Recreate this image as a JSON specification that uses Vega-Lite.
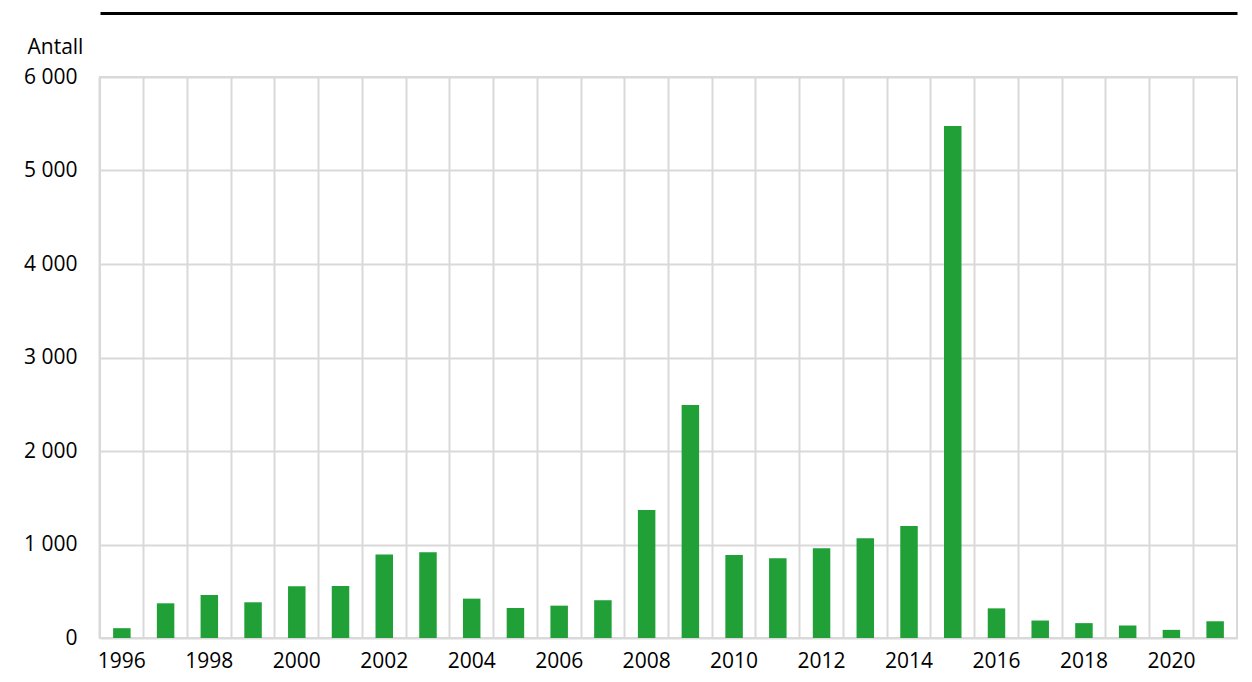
{
  "$schema": "https://vega.github.io/schema/vega-lite/v6.json",
  "width": 1137,
  "height": 561,
  "autosize": {"type": "none"},
  "padding": {"left": 100, "top": 77, "right": 15, "bottom": 44},
  "background": "white",
  "config": {
    "view": {"stroke": "#d9d9d9", "strokeWidth": 2},
    "font": "Open Sans"
  },
  "data": {
    "values": [
      {"year": 1996, "antall": 105},
      {"year": 1997, "antall": 371},
      {"year": 1998, "antall": 460},
      {"year": 1999, "antall": 382},
      {"year": 2000, "antall": 553},
      {"year": 2001, "antall": 556},
      {"year": 2002, "antall": 893},
      {"year": 2003, "antall": 918},
      {"year": 2004, "antall": 421},
      {"year": 2005, "antall": 321},
      {"year": 2006, "antall": 346},
      {"year": 2007, "antall": 404},
      {"year": 2008, "antall": 1369},
      {"year": 2009, "antall": 2492},
      {"year": 2010, "antall": 888},
      {"year": 2011, "antall": 852},
      {"year": 2012, "antall": 959},
      {"year": 2013, "antall": 1066},
      {"year": 2014, "antall": 1198},
      {"year": 2015, "antall": 5476},
      {"year": 2016, "antall": 317},
      {"year": 2017, "antall": 187},
      {"year": 2018, "antall": 159},
      {"year": 2019, "antall": 135},
      {"year": 2020, "antall": 87},
      {"year": 2021, "antall": 179}
    ]
  },
  "layer": [
    {
      "mark": {"type": "bar", "opacity": 0},
      "encoding": {
        "x": {
          "field": "year",
          "type": "ordinal",
          "scale": {"paddingInner": 0.6, "paddingOuter": 0.3},
          "axis": {
            "orient": "bottom",
            "title": null,
            "labels": false,
            "ticks": false,
            "tickSize": 0,
            "domain": false,
            "grid": true,
            "gridColor": "#d9d9d9",
            "gridWidth": 2,
            "bandPosition": -0.75
          }
        },
        "y": {"field": "antall", "type": "quantitative"}
      }
    },
    {
      "mark": {"type": "bar", "color": "#21a038"},
      "encoding": {
        "x": {
          "field": "year",
          "type": "ordinal",
          "axis": {
            "orient": "bottom",
            "title": null,
            "labelAngle": 0,
            "labelExpr": "datum.value % 2 == 0 ? datum.value : ''",
            "grid": false,
            "ticks": false,
            "tickSize": 0,
            "domain": false,
            "labelFont": "Open Sans",
            "labelFontSize": 21,
            "labelColor": "#000000",
            "labelPadding": 12
          }
        },
        "y": {
          "field": "antall",
          "type": "quantitative",
          "scale": {"domain": [0, 6000]},
          "axis": {
            "title": "Antall",
            "titleAngle": 0,
            "titleAlign": "left",
            "titleBaseline": "middle",
            "titleX": -73,
            "titleY": -30,
            "titleFont": "Open Sans",
            "titleFontSize": 21,
            "titleFontWeight": "normal",
            "titleColor": "#000000",
            "values": [0, 1000, 2000, 3000, 4000, 5000, 6000],
            "labelExpr": "replace(format(datum.value, ','), ',', ' ')",
            "labelFont": "Open Sans",
            "labelFontSize": 21,
            "labelColor": "#000000",
            "labelPadding": 23,
            "ticks": false,
            "tickSize": 0,
            "domain": false,
            "grid": true,
            "gridColor": "#d9d9d9",
            "gridWidth": 2
          }
        }
      }
    },
    {
      "mark": {"type": "bar", "opacity": 0},
      "encoding": {
        "x": {
          "field": "year",
          "type": "ordinal",
          "axis": {
            "orient": "top",
            "title": null,
            "labels": false,
            "ticks": false,
            "grid": false,
            "domain": true,
            "domainColor": "#000000",
            "domainWidth": 3,
            "offset": 64
          }
        },
        "y": {"field": "antall", "type": "quantitative"}
      }
    }
  ],
  "resolve": {"axis": {"x": "independent"}}
}
